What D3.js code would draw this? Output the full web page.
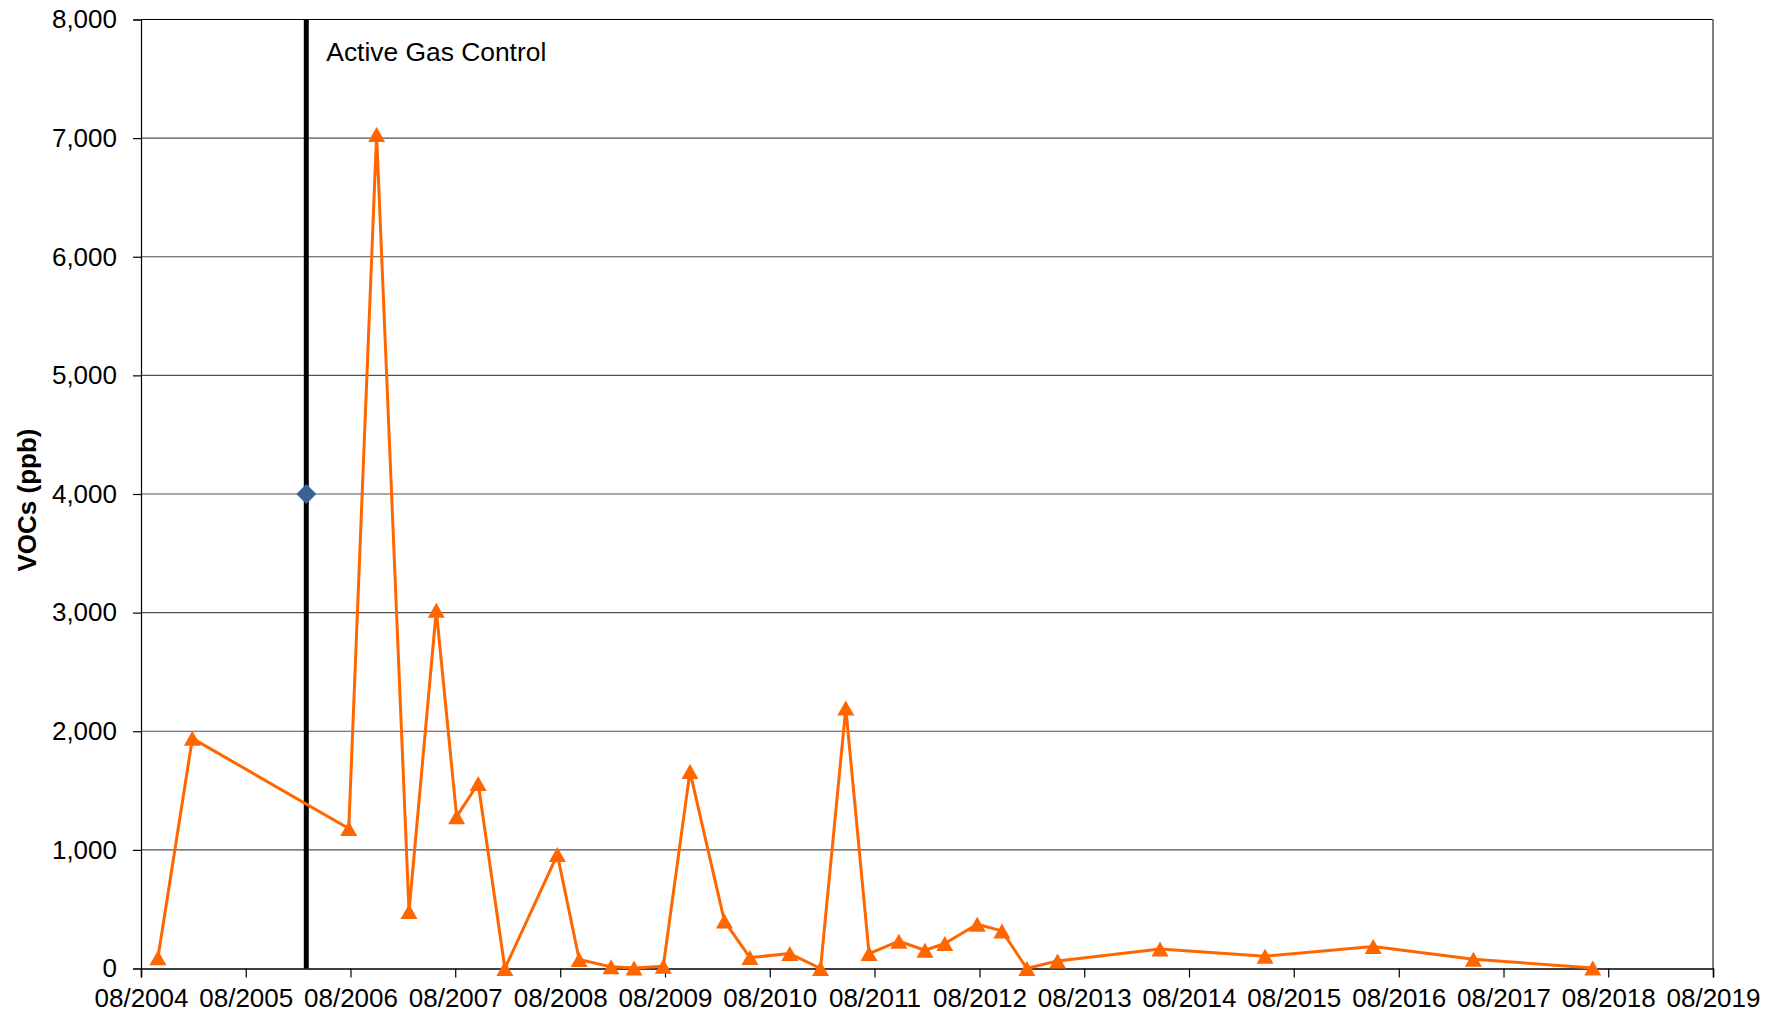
<!DOCTYPE html>
<html>
<head>
<meta charset="utf-8">
<script src="https://cdn.jsdelivr.net/npm/d3@7"></script>
<style>
  html, body { margin: 0; padding: 0; background: #fff; }
  svg { display: block; }
  text { font-family: "Liberation Sans", Arial, sans-serif; fill: #000; }
</style>
</head>
<body>
<svg id="chart" width="1780" height="1018"></svg>
<script>
// ---- Data ----
const sampleDates = [
  "2004-09-29","2005-01-27","2006-07-26","2006-10-31","2007-02-21","2007-05-27",
  "2007-08-06","2007-10-20","2008-01-21","2008-07-22","2008-10-06","2009-01-25",
  "2009-04-15","2009-07-26","2009-10-27","2010-02-24","2010-05-24","2010-10-10",
  "2011-01-25","2011-04-23","2011-07-13","2011-10-25","2012-01-24","2012-04-02",
  "2012-07-24","2012-10-18","2013-01-13","2013-04-30","2014-04-22","2015-04-23",
  "2016-05-04","2017-04-18","2018-06-08"
];
const vocValues = [
  90, 1940, 1180, 7030, 480, 3020,
  1280, 1560, 0, 960, 76, 14,
  5, 19, 1660, 400, 92, 126,
  0, 2195, 126, 230, 154, 211,
  373, 317, 0, 64, 165, 104,
  185, 78, 5
];
const xTickLabels = ["08/2004","08/2005","08/2006","08/2007","08/2008","08/2009","08/2010",
  "08/2011","08/2012","08/2013","08/2014","08/2015","08/2016","08/2017","08/2018","08/2019"];
const yTickValues = [0,1000,2000,3000,4000,5000,6000,7000,8000];
const gasControlDate = "2006-02-28";
const gasControlMarkerValue = 4000;
const gasControlLabel = "Active Gas Control";
const yAxisTitle = "VOCs (ppb)";

// ---- Layout ----
const pLeft = 141, pRight = 1713, pTop = 19.5, pBottom = 968.5;
const parseDay = d3.timeParse("%Y-%m-%d");
const parseTick = d3.timeParse("%m/%Y");
const tickDates = xTickLabels.map(parseTick);

const x = d3.scaleTime().domain([tickDates[0], tickDates[tickDates.length-1]]).range([pLeft, pRight]);
const y = d3.scaleLinear().domain([0, 8000]).range([pBottom, pTop]);

const svg = d3.select("#chart");
const fontSize = 26;

// gridlines
svg.append("g").selectAll("line").data(yTickValues.filter(v => v > 0 && v < 8000)).join("line")
  .attr("x1", pLeft).attr("x2", pRight)
  .attr("y1", d => y(d)).attr("y2", d => y(d))
  .attr("stroke", "#505050").attr("stroke-width", 1.2);

// frame: top black, right gray
svg.append("line").attr("x1", pLeft).attr("x2", pRight).attr("y1", pTop).attr("y2", pTop)
  .attr("stroke", "#000").attr("stroke-width", 1.2);
svg.append("line").attr("x1", pRight).attr("x2", pRight).attr("y1", pTop).attr("y2", pBottom)
  .attr("stroke", "#808080").attr("stroke-width", 2);

// Y axis
const yAxis = d3.axisLeft(y).tickValues(yTickValues).tickSize(8).tickPadding(16)
  .tickFormat(d3.format(","));
const gy = svg.append("g").attr("transform", `translate(${pLeft},0)`).call(yAxis);
gy.select(".domain").attr("stroke", "#000").attr("stroke-width", 1.2);
gy.selectAll(".tick line").attr("stroke", "#000").attr("stroke-width", 1.2);
gy.selectAll(".tick text").style("font-size", fontSize + "px").style("font-family", "Liberation Sans, Arial, sans-serif").attr("fill", "#000");

// X axis
const xAxis = d3.axisBottom(x).tickValues(tickDates).tickSize(9).tickPadding(11)
  .tickFormat((d, i) => xTickLabels[i]);
const gx = svg.append("g").attr("transform", `translate(0,${pBottom})`).call(xAxis);
gx.select(".domain").attr("stroke", "#000").attr("stroke-width", 1.5);
gx.selectAll(".tick line").attr("stroke", "#000").attr("stroke-width", 1.2);
gx.selectAll(".tick text").style("font-size", fontSize + "px").style("font-family", "Liberation Sans, Arial, sans-serif").attr("fill", "#000");

// Y axis title
svg.append("text")
  .attr("transform", `translate(36,${(pTop + pBottom) / 2 + 6}) rotate(-90)`)
  .attr("text-anchor", "middle")
  .style("font-size", fontSize + "px").style("font-weight", "bold")
  .text(yAxisTitle);

// Active gas control line
const gcx = x(parseDay(gasControlDate));
svg.append("line").attr("x1", gcx).attr("x2", gcx).attr("y1", pTop).attr("y2", pBottom)
  .attr("stroke", "#000").attr("stroke-width", 5);
svg.append("text").attr("x", gcx + 20).attr("y", 61)
  .style("font-size", "26.4px").text(gasControlLabel);

// Diamond marker
const diamond = {
  draw(ctx, size) {
    const r = Math.sqrt(size) / 2;
    ctx.moveTo(0, -r); ctx.lineTo(r, 0); ctx.lineTo(0, r); ctx.lineTo(-r, 0); ctx.closePath();
  }
};
svg.append("path")
  .attr("d", d3.symbol().type(diamond).size(400)())
  .attr("transform", `translate(${gcx},${y(gasControlMarkerValue)})`)
  .attr("fill", "#3a6394");

// Series
const data = sampleDates.map((d, i) => ({ date: parseDay(d), v: vocValues[i] }));
const line = d3.line().x(d => x(d.date)).y(d => y(d.v));
svg.append("path").datum(data).attr("d", line)
  .attr("fill", "none").attr("stroke", "#ff6600").attr("stroke-width", 3)
  .attr("stroke-linejoin", "round");

const tri = {
  draw(ctx, size) {
    const s = Math.sqrt(size) / 2;
    const w = s * 17 / 16, h = s * 15 / 16;
    ctx.moveTo(0, -h); ctx.lineTo(w, h); ctx.lineTo(-w, h); ctx.closePath();
  }
};
svg.append("g").selectAll("path").data(data).join("path")
  .attr("d", d3.symbol().type(tri).size(256)())
  .attr("transform", d => `translate(${x(d.date)},${y(d.v)})`)
  .attr("fill", "#ff6600");
</script>
</body>
</html>
